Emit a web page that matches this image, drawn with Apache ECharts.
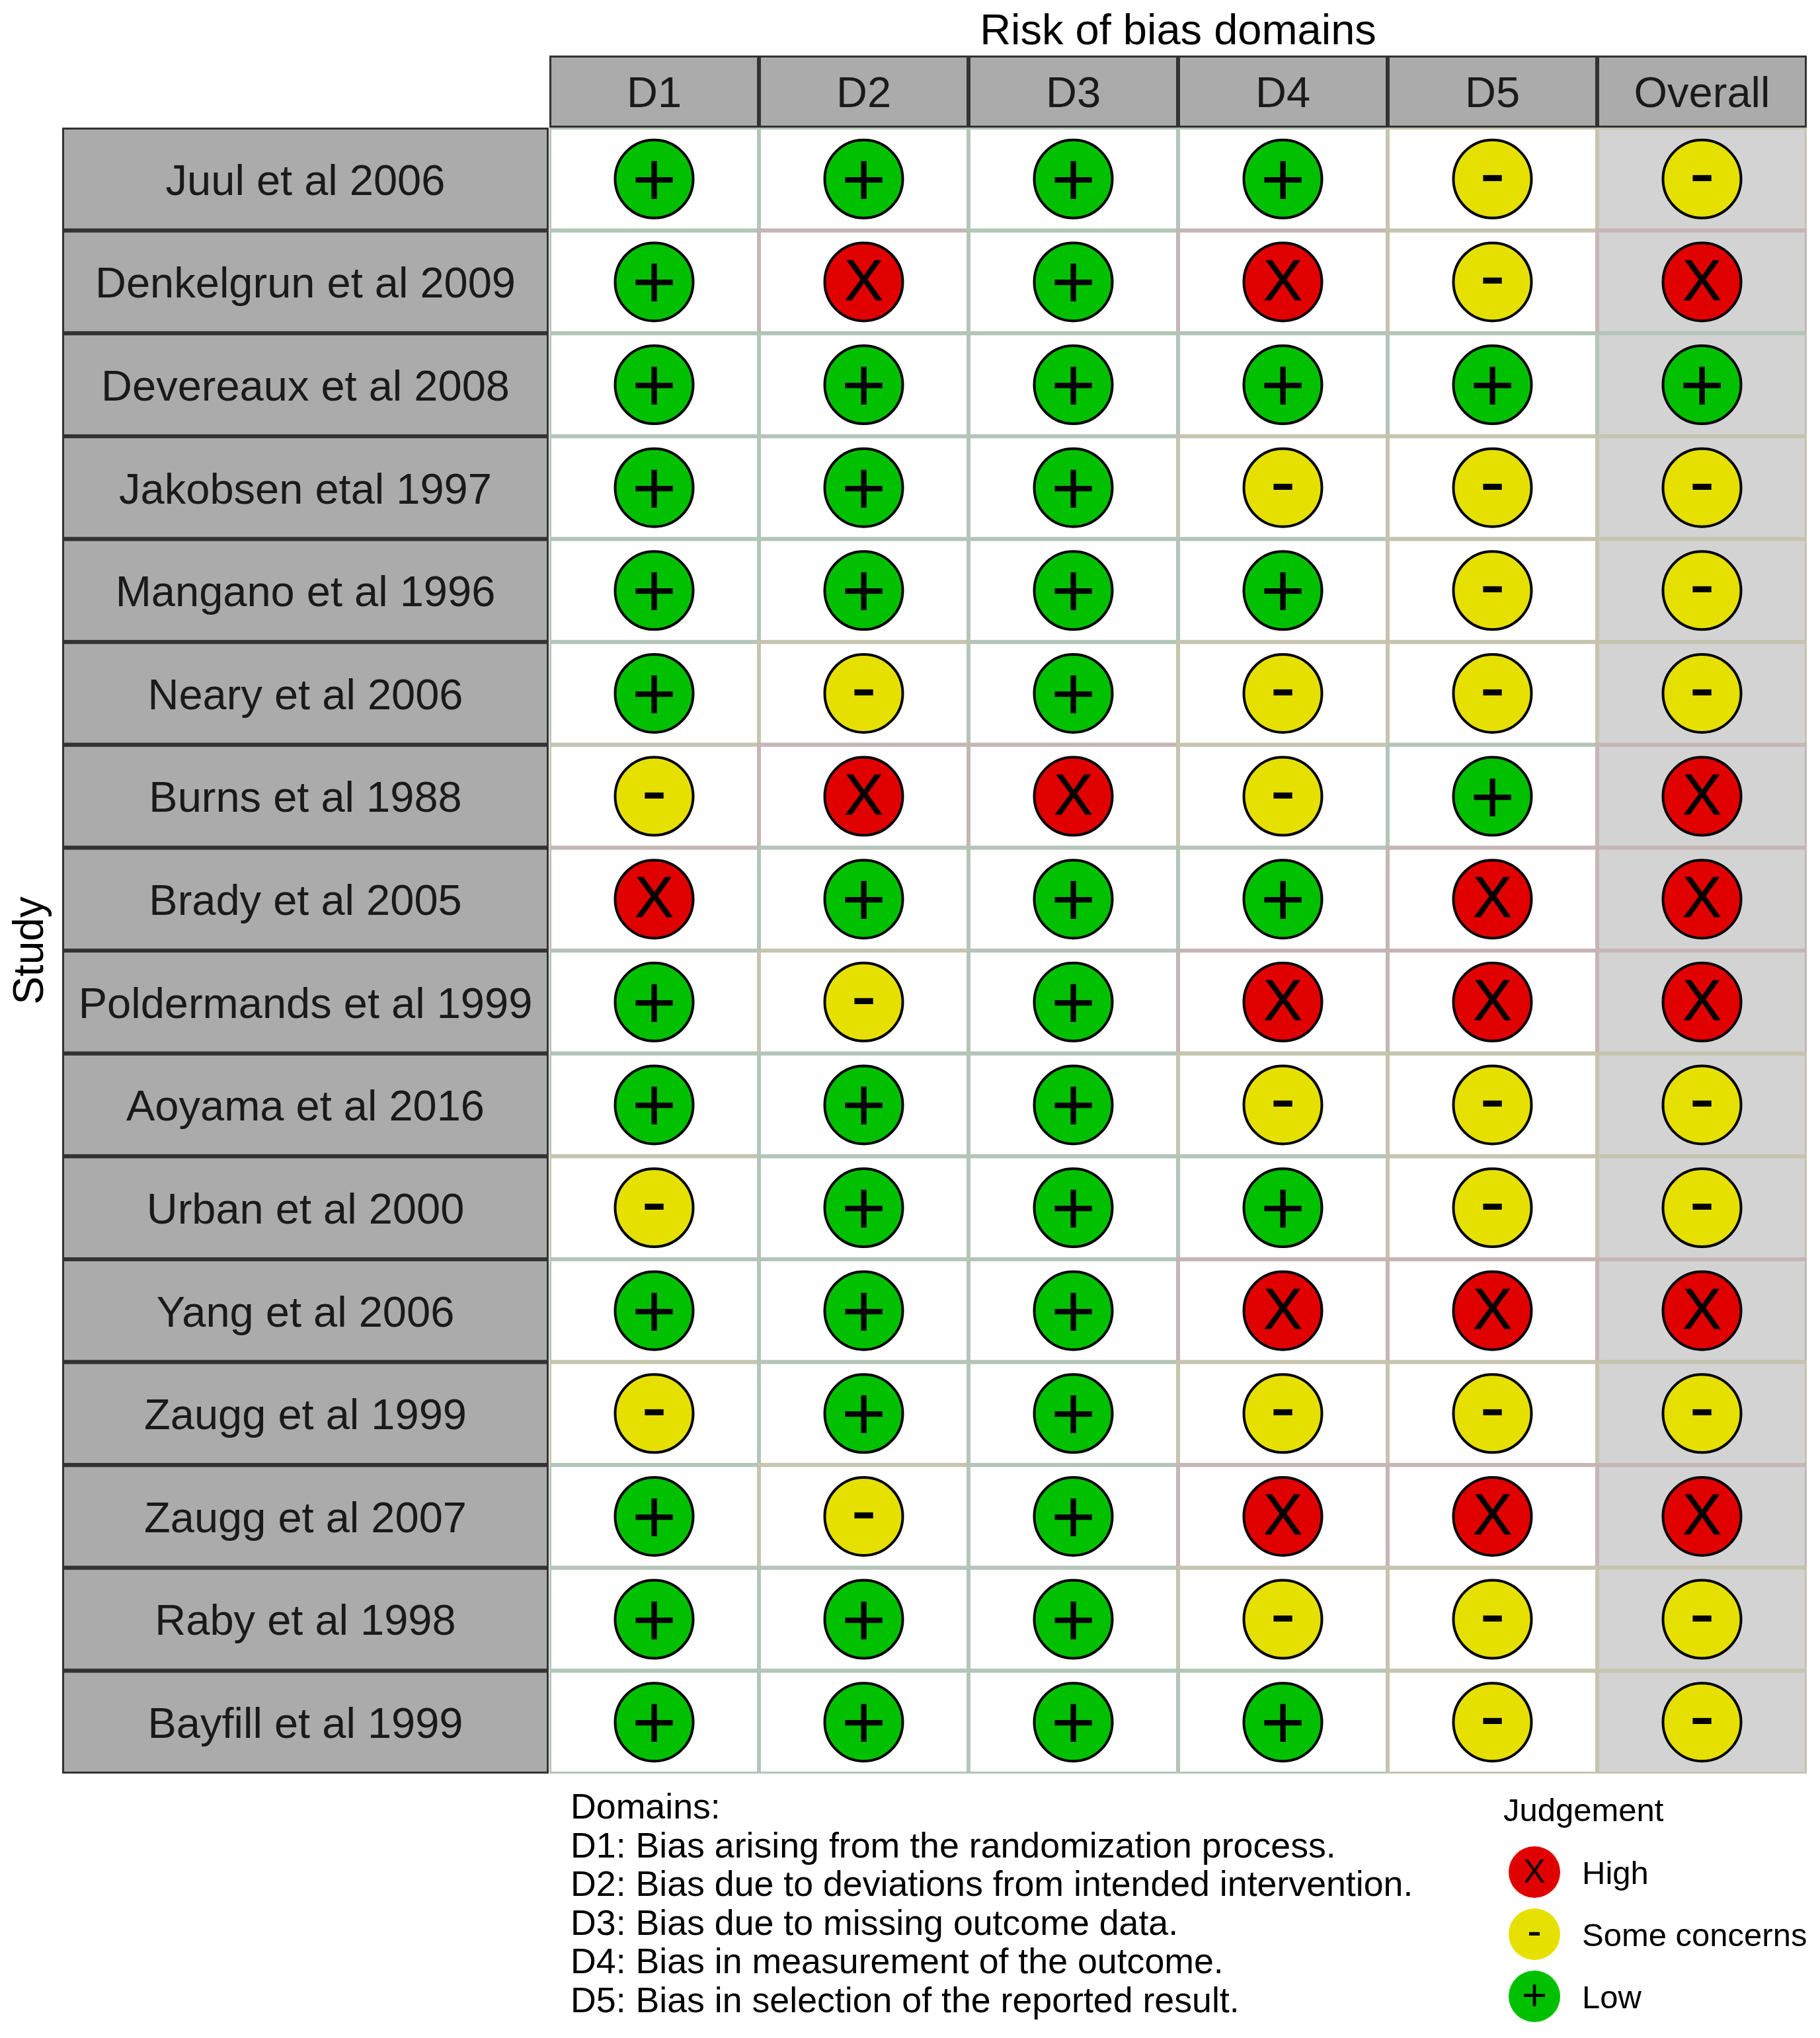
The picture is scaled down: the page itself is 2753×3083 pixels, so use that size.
<!DOCTYPE html>
<html>
<head>
<meta charset="utf-8">
<style>
  html, body { margin: 0; padding: 0; background: #fff; }
  #Root { width: 2753px; height: 3083px; }
</style>
<script src="https://cdn.jsdelivr.net/npm/echarts@6/dist/echarts.min.js"></script>
</head>
<body>
<div id="Root"></div>
<script>
const domains = ["D1", "D2", "D3", "D4", "D5", "Overall"];
const studies = [
    "Juul et al 2006", "Denkelgrun et al 2009", "Devereaux et al 2008", "Jakobsen etal 1997",
    "Mangano et al 1996", "Neary et al 2006", "Burns et al 1988", "Brady et al 2005",
    "Poldermands et al 1999", "Aoyama et al 2016", "Urban et al 2000", "Yang et al 2006",
    "Zaugg et al 1999", "Zaugg et al 2007", "Raby et al 1998", "Bayfill et al 1999"
];
// one string per study, one letter per domain: L low, S some concerns, H high
const judgements = [
    "LLLLSS", "LHLHSH", "LLLLLL", "LLLSSS",
    "LLLLSS", "LSLSSS", "SHHSLH", "HLLLHH",
    "LSLHHH", "LLLSSS", "SLLLSS", "LLLHHH",
    "SLLSSS", "LSLHHH", "LLLSSS", "LLLLSS"
];
const levelNames = ["High", "Some concerns", "Low"];
const levelCodes = ["H", "S", "L"];
const levelGlyphs = ["X", "-", "+"];
const levelColors = ["#e00000", "#e6e000", "#00c000"];
const levelBorders = ["#c6b5b5", "#c6c4ae", "#b3c5b8"];
const domainNotes = [
    "Domains:",
    "D1: Bias arising from the randomization process.",
    "D2: Bias due to deviations from intended intervention.",
    "D3: Bias due to missing outcome data.",
    "D4: Bias in measurement of the outcome.",
    "D5: Bias in selection of the reported result."
];

const FONT = '"Liberation Sans", Arial, sans-serif';
const STRIP_FILL = "#ababab";
const STRIP_LINE = "#333333";

function PointsFor(code) {
    let list = [];
    judgements.forEach((row, s) => {
        row.split("").forEach((j, d) => {
            if (j === code) list.push([d, s]);
        });
    });
    return list;
}

function TileData() {
    let list = [];
    judgements.forEach((row, s) => {
        row.split("").forEach((j, d) => list.push([d, s, levelCodes.indexOf(j)]));
    });
    return list;
}

function RenderTile(params, api) {
    let c = api.coord([api.value(0), api.value(1)]);
    let size = api.size([1, 1]);
    let d = api.value(0);
    return {
        type: "rect",
        shape: { x: c[0] - size[0] / 2, y: c[1] - size[1] / 2, width: size[0], height: size[1] },
        style: {
            fill: domains[d] === "Overall" ? "#d3d3d3" : "#ffffff",
            stroke: levelBorders[api.value(2)],
            lineWidth: 6
        }
    };
}

// header strip cells and study strip cells share this
function RenderStrip(params, api) {
    let c = api.coord([api.value(0), api.value(1)]);
    let size = api.size([1, 1]);
    return {
        type: "group",
        children: [{
            type: "rect",
            shape: { x: c[0] - size[0] / 2, y: c[1] - size[1] / 2, width: size[0], height: size[1] },
            style: { fill: STRIP_FILL, stroke: STRIP_LINE, lineWidth: 6 }
        }, {
            type: "text",
            x: c[0],
            y: c[1] + 6,
            style: {
                text: api.value(2),
                font: "65px " + FONT,
                fill: "#1a1a1a",
                align: "center",
                verticalAlign: "middle"
            }
        }]
    };
}

let chart = echarts.init(document.getElementById("Root"), null, { renderer: "canvas" });

let glyphOffsets = [[0, 3], [0, -2], [0, 8]];
let glyphSeries = levelNames.map((name, i) => ({
    name: name,
    type: "scatter",
    xAxisIndex: 0,
    yAxisIndex: 0,
    data: PointsFor(levelCodes[i]),
    symbol: "circle",
    symbolSize: 118,
    z: 5,
    itemStyle: { color: levelColors[i], borderColor: "#000", borderWidth: 4, opacity: 1 },
    label: {
        show: true,
        position: "inside",
        formatter: levelGlyphs[i],
        color: "#000",
        fontFamily: FONT,
        fontSize: i === 0 ? 88 : 116,
        textBorderColor: "#000",
        textBorderWidth: i === 0 ? 1 : 0,
        offset: glyphOffsets[i]
    }
}));

let legendOffsets = [[0, 2], [0, -1], [0, 3]];
let legendSeries = levelNames.map((name, i) => ({
    name: name + " key",
    type: "scatter",
    xAxisIndex: 3,
    yAxisIndex: 3,
    data: [[0, i]],
    symbol: "circle",
    symbolSize: 78,
    itemStyle: { color: levelColors[i], opacity: 1 },
    label: {
        show: true,
        position: "inside",
        formatter: levelGlyphs[i],
        color: "#000",
        fontFamily: FONT,
        fontSize: i === 0 ? 50 : 66,
        offset: legendOffsets[i]
    }
}));

chart.setOption({
    animation: false,
    backgroundColor: "#ffffff",
    grid: [
        { left: 831, top: 193, width: 1902, height: 2490 },
        { left: 831, top: 84, width: 1902, height: 109 },
        { left: 94, top: 193, width: 736, height: 2490 },
        { left: 2274, top: 2785, width: 94, height: 282 }
    ],
    xAxis: [
        { gridIndex: 0, type: "category", data: domains, show: false },
        { gridIndex: 1, type: "category", data: domains, show: false },
        { gridIndex: 2, type: "category", data: ["Study"], show: false },
        { gridIndex: 3, type: "category", data: ["Judgement"], show: false }
    ],
    yAxis: [
        { gridIndex: 0, type: "category", data: studies, inverse: true, show: false },
        { gridIndex: 1, type: "category", data: ["Domain"], show: false },
        {
            gridIndex: 2, type: "category", data: studies, inverse: true, show: true,
            name: "Study", nameLocation: "middle", nameGap: 15, nameRotate: 90,
            nameTextStyle: { fontFamily: FONT, fontSize: 64, color: "#000" },
            axisLine: { show: false }, axisTick: { show: false }, axisLabel: { show: false }
        },
        {
            gridIndex: 3, type: "category", data: levelNames, inverse: true, position: "right",
            axisLine: { show: false }, axisTick: { show: false },
            axisLabel: {
                margin: 25, align: "left",
                formatter: "{key|{value}}",
                rich: {
                    key: { fontFamily: FONT, fontSize: 49, color: "#000", padding: [8, 0, 0, 0] }
                }
            }
        }
    ],
    title: {
        text: "Risk of bias domains",
        left: 1782,
        top: 49,
        padding: 0,
        textAlign: "center",
        textVerticalAlign: "middle",
        textStyle: { fontFamily: FONT, fontSize: 65, fontWeight: "normal", color: "#000" }
    },
    graphic: [
        {
            type: "text", left: 863, top: 2707,
            style: {
                text: domainNotes.join("\n"),
                font: "53.7px " + FONT,
                lineHeight: 58.5,
                fill: "#000"
            }
        },
        {
            type: "text", left: 2274, top: 2717,
            style: { text: "Judgement", font: "49px " + FONT, fill: "#000" }
        }
    ],
    series: [
        {
            name: "Tiles", type: "custom", xAxisIndex: 0, yAxisIndex: 0, z: 1, clip: true,
            renderItem: RenderTile, data: TileData(), silent: true
        },
        {
            name: "Domain strip", type: "custom", xAxisIndex: 1, yAxisIndex: 1, z: 2, clip: true,
            renderItem: RenderStrip, silent: true,
            data: domains.map((d, i) => [i, 0, d]),
            dimensions: ["x", "y", { name: "text", type: "ordinal" }]
        },
        {
            name: "Study strip", type: "custom", xAxisIndex: 2, yAxisIndex: 2, z: 2, clip: true,
            renderItem: RenderStrip, silent: true,
            data: studies.map((s, i) => [0, i, s]),
            dimensions: ["x", "y", { name: "text", type: "ordinal" }]
        },
        ...glyphSeries,
        ...legendSeries
    ]
});
</script>
</body>
</html>
